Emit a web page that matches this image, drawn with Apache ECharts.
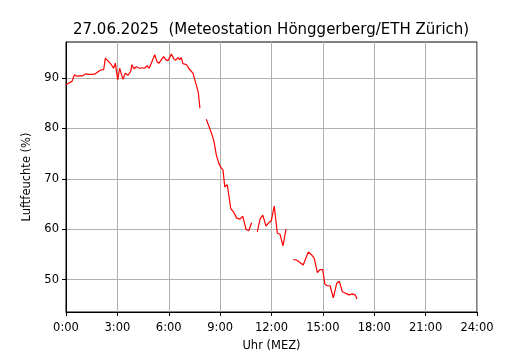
<!DOCTYPE html>
<html>
<head>
<meta charset="utf-8">
<script src="https://cdn.jsdelivr.net/npm/echarts@6/dist/echarts.min.js"></script>
<style>
  html, body { margin: 0; padding: 0; background: #fff; }
  #main { width: 530px; height: 350px; }
</style>
</head>
<body>
<div id="main"></div>
<script>
// Uhrzeit in Stunden (MEZ), null = Messlücke
var stunden = [
  0.0, 0.17, 0.35, 0.49, 0.64, 0.78, 0.88, 0.97, 1.05, 1.17, 1.33, 1.52, 1.71, 1.91, 2.06, 2.2,
  2.3, 2.49, 2.65, 2.78, 2.88, 3.02, 3.13, 3.33, 3.46, 3.62, 3.78, 3.85, 3.97, 4.1, 4.3, 4.45,
  4.6, 4.73, 4.85, 4.98, 5.08, 5.18, 5.31, 5.43, 5.57, 5.7, 5.82, 5.96, 6.05, 6.15, 6.29, 6.41,
  6.54, 6.64, 6.73, 6.83, 6.93, 7.05, 7.18, 7.32, 7.42, 7.52, 7.63, 7.73, 7.82,
  8.0,
  8.19, 8.39, 8.53, 8.64, 8.78, 8.92, 9.03, 9.17, 9.27, 9.42, 9.62, 9.77, 9.97, 10.16, 10.32,
  10.51, 10.67, 10.84,
  11.0,
  11.17, 11.33, 11.49, 11.68, 11.84, 11.99, 12.16, 12.34, 12.5, 12.67, 12.85,
  13.1,
  13.27, 13.46, 13.66, 13.85, 14.15, 14.35, 14.5, 14.68, 14.83, 14.99, 15.12, 15.26, 15.42,
  15.61, 15.81, 15.96, 16.14, 16.33, 16.53, 16.72, 16.88, 17.0
];
var feuchte = [
  88.6, 89.0, 89.3, 90.6, 90.3, 90.4, 90.1, 90.4, 90.1, 90.8, 90.7, 90.7, 90.8, 91.3, 91.6, 91.6,
  93.9, 93.2, 92.6, 91.9, 92.9, 89.6, 91.9, 89.7, 90.9, 90.5, 91.3, 92.6, 91.8, 92.2, 91.9, 92.0,
  91.9, 92.4, 91.9, 92.9, 92.6, 94.6, 93.2, 92.9, 93.6, 94.2, 93.6, 93.4, 93.6, 94.7, 93.8, 93.5,
  94.0, 93.6, 94.0, 92.8, 93.1, 92.6, 91.8, 91.3, 90.9, 89.6, 88.3, 87.0, 84.0,
  null,
  81.8, 80.0, 78.7, 77.4, 74.7, 73.1, 72.3, 71.7, 68.4, 68.8, 64.1, 63.5, 62.2, 62.0, 62.6,
  60.0, 59.7, 61.3,
  null,
  59.5, 62.0, 62.8, 60.6, 61.3, 61.7, 64.6, 59.2, 59.0, 56.7, 60.0,
  null,
  54.0, 53.9, 53.4, 52.9, 55.5, 54.9, 54.2, 51.4, 52.0, 52.0, 49.1, 48.8, 48.8,
  46.4, 49.3, 49.7, 47.6, 47.3, 47.0, 47.2, 47.0, 46.2
];
var yTicks = [50, 60, 70, 80, 90];

var myChart = echarts.init(document.getElementById('main'));
var font = 'DejaVu Sans';
var option = {
    animation: false,
    backgroundColor: '#fff',
    title: {
        text: '27.06.2025  (Meteostation Hönggerberg/ETH Zürich)',
        left: 68,
        top: 18,
        textStyle: { fontFamily: font, fontSize: 15, fontWeight: 'normal', color: '#000' }
    },
    grid: {
        left: 66, right: 53, top: 42, bottom: 38,
        outerBoundsMode: 'none',
        show: true, borderColor: '#000', borderWidth: 1
    },
    xAxis: {
        type: 'value',
        min: 0, max: 24, interval: 3,
        name: 'Uhr (MEZ)',
        nameLocation: 'middle',
        nameGap: 28,
        nameTextStyle: { fontFamily: font, fontSize: 11.5, color: '#000' },
        axisLine: { lineStyle: { color: '#000' } },
        axisTick: { length: 4, lineStyle: { color: '#000' } },
        axisLabel: {
            fontFamily: font, fontSize: 11.5, color: '#000', margin: 10,
            formatter: function (v) { return v + ':00'; }
        },
        splitLine: { lineStyle: { color: '#b0b0b0', width: 1 } }
    },
    yAxis: {
        type: 'value',
        min: 43.6, max: 97.1,
        name: 'Luftfeuchte (%)',
        nameLocation: 'middle',
        nameGap: 32,
        nameTextStyle: { fontFamily: font, fontSize: 11.5, color: '#000' },
        axisLine: { show: true, lineStyle: { color: '#000' } },
        axisTick: { show: true, length: 4, lineStyle: { color: '#000' }, customValues: yTicks },
        axisLabel: { fontFamily: font, fontSize: 11.5, color: '#000', margin: 7, customValues: yTicks },
        splitLine: { show: true, lineStyle: { color: '#b0b0b0', width: 1 } }
    },
    series: [{
        type: 'line',
        data: stunden.map(function (t, i) { return [t, feuchte[i]]; }),
        showSymbol: false,
        connectNulls: false,
        lineStyle: { color: '#ff0000', width: 1.2 },
        itemStyle: { color: '#ff0000' }
    }]
};
myChart.setOption(option);
</script>
</body>
</html>
